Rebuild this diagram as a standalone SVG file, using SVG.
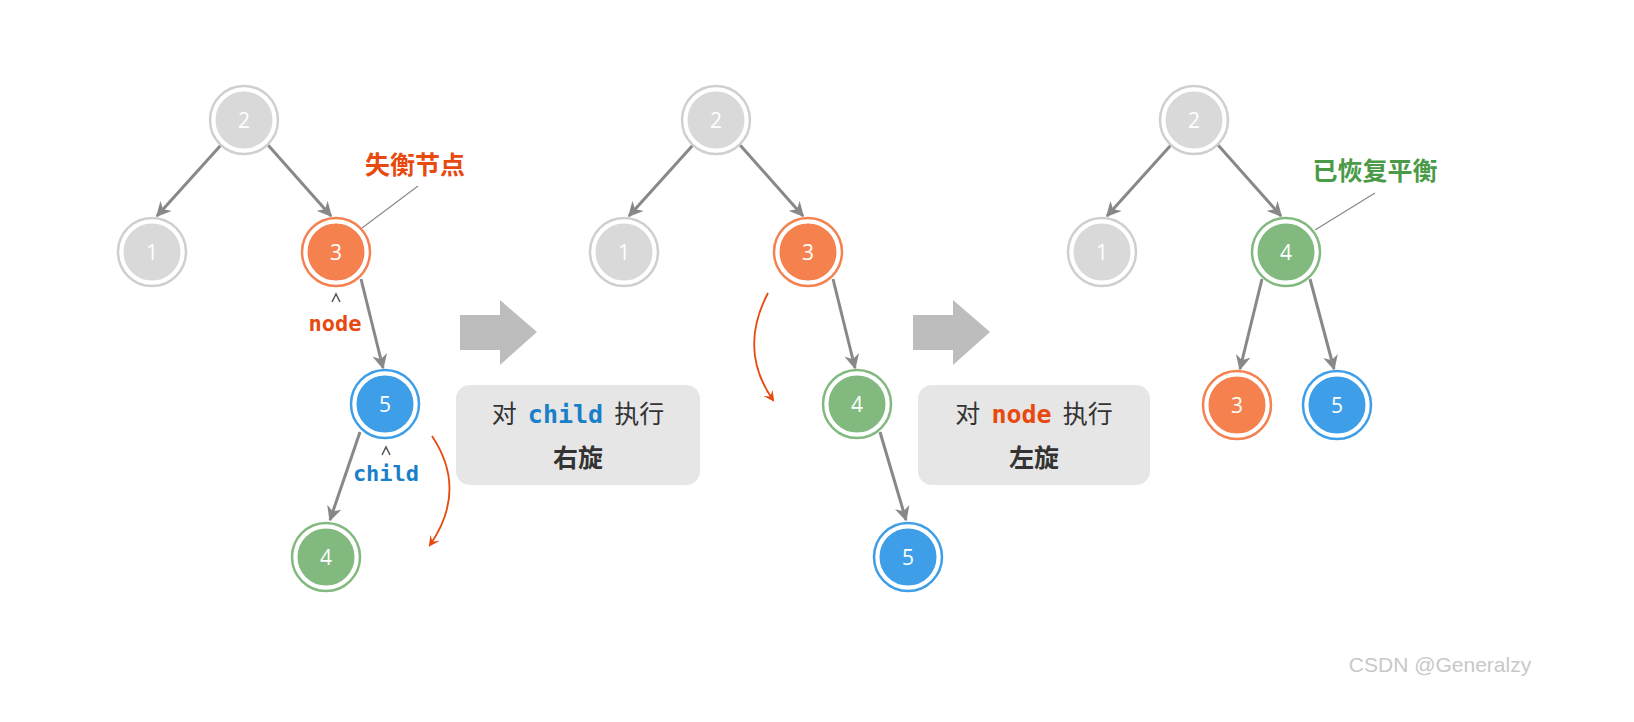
<svg xmlns="http://www.w3.org/2000/svg" width="1634" height="722" viewBox="0 0 1634 722">
<style>
.ring{stroke-width:2.5;fill:#fff}
.inner{stroke:#fff;stroke-width:3}
.num{font-family:"Open Sans","DejaVu Sans",sans-serif;font-size:21px;fill:#fff;text-anchor:middle;dominant-baseline:central}
.g .ring{stroke:#cfcfcf}.g .inner{fill:#d9d9d9}
.o .ring{stroke:#f5814f}.o .inner{fill:#f5814f}
.b .ring{stroke:#3e9fe8}.b .inner{fill:#3e9fe8}
.n .ring{stroke:#82b97f}.n .inner{fill:#82b97f}
.e{stroke:#888;stroke-width:3;fill:none;marker-end:url(#ah)}
.cjk{font-family:"Noto Sans CJK SC",sans-serif;font-size:25px;text-anchor:middle}
.mono{font-family:"DejaVu Sans Mono","Liberation Mono",monospace;font-weight:bold}
</style>
<defs>
<marker id="ah" viewBox="0 0 10 10" refX="9" refY="5" markerWidth="5" markerHeight="5" orient="auto"><path d="M0,0 L10,5 L0,10 L3,5 Z" fill="#888"/></marker>
<marker id="oh" viewBox="0 0 10 10" refX="8" refY="5" markerWidth="6" markerHeight="6" orient="auto"><path d="M0,0 L10,5 L0,10 L4,5 Z" fill="#e8490f"/></marker>
</defs>
<g id="connectors">
<line class="e" x1="221" y1="145" x2="157" y2="216"/>
<line class="e" x1="268" y1="145" x2="331" y2="216"/>
<line class="e" x1="361" y1="279" x2="383" y2="368"/>
<line class="e" x1="360" y1="432" x2="330" y2="520"/>
<line class="e" x1="693" y1="145" x2="629" y2="216"/>
<line class="e" x1="740" y1="145" x2="803" y2="216"/>
<line class="e" x1="833" y1="279" x2="855" y2="368"/>
<line class="e" x1="880" y1="432" x2="906" y2="520"/>
<line class="e" x1="1171" y1="145" x2="1107" y2="216"/>
<line class="e" x1="1218" y1="145" x2="1281" y2="216"/>
<line class="e" x1="1262" y1="279" x2="1240" y2="369"/>
<line class="e" x1="1310" y1="279" x2="1334" y2="369"/>
<line x1="362" y1="228" x2="418" y2="186" stroke="#888" stroke-width="1.2"/>
<line x1="1315" y1="230" x2="1375" y2="193" stroke="#888" stroke-width="1.2"/>
<path d="M432,436 Q468,490 430,545" stroke="#e8490f" stroke-width="1.8" fill="none" marker-end="url(#oh)"/>
<path d="M768,293 Q738,350 773,400" stroke="#e8490f" stroke-width="1.8" fill="none" marker-end="url(#oh)"/>
</g>
<g id="n2a" class="g"><circle class="ring" cx="244" cy="120" r="34"/><circle class="inner" cx="244" cy="120" r="30"/><text class="num" x="244" y="120">2</text></g>
<g id="n1a" class="g"><circle class="ring" cx="152" cy="252" r="34"/><circle class="inner" cx="152" cy="252" r="30"/><text class="num" x="152" y="252">1</text></g>
<g id="n3a" class="o"><circle class="ring" cx="336" cy="252" r="34"/><circle class="inner" cx="336" cy="252" r="30"/><text class="num" x="336" y="252">3</text></g>
<g id="n5a" class="b"><circle class="ring" cx="385" cy="404" r="34"/><circle class="inner" cx="385" cy="404" r="30"/><text class="num" x="385" y="404">5</text></g>
<g id="n4a" class="n"><circle class="ring" cx="326" cy="557" r="34"/><circle class="inner" cx="326" cy="557" r="30"/><text class="num" x="326" y="557">4</text></g>
<g id="n2b" class="g"><circle class="ring" cx="716" cy="120" r="34"/><circle class="inner" cx="716" cy="120" r="30"/><text class="num" x="716" y="120">2</text></g>
<g id="n1b" class="g"><circle class="ring" cx="624" cy="252" r="34"/><circle class="inner" cx="624" cy="252" r="30"/><text class="num" x="624" y="252">1</text></g>
<g id="n3b" class="o"><circle class="ring" cx="808" cy="252" r="34"/><circle class="inner" cx="808" cy="252" r="30"/><text class="num" x="808" y="252">3</text></g>
<g id="n4b" class="n"><circle class="ring" cx="857" cy="404" r="34"/><circle class="inner" cx="857" cy="404" r="30"/><text class="num" x="857" y="404">4</text></g>
<g id="n5b" class="b"><circle class="ring" cx="908" cy="557" r="34"/><circle class="inner" cx="908" cy="557" r="30"/><text class="num" x="908" y="557">5</text></g>
<g id="n2c" class="g"><circle class="ring" cx="1194" cy="120" r="34"/><circle class="inner" cx="1194" cy="120" r="30"/><text class="num" x="1194" y="120">2</text></g>
<g id="n1c" class="g"><circle class="ring" cx="1102" cy="252" r="34"/><circle class="inner" cx="1102" cy="252" r="30"/><text class="num" x="1102" y="252">1</text></g>
<g id="n4c" class="n"><circle class="ring" cx="1286" cy="252" r="34"/><circle class="inner" cx="1286" cy="252" r="30"/><text class="num" x="1286" y="252">4</text></g>
<g id="n3c" class="o"><circle class="ring" cx="1237" cy="405" r="34"/><circle class="inner" cx="1237" cy="405" r="30"/><text class="num" x="1237" y="405">3</text></g>
<g id="n5c" class="b"><circle class="ring" cx="1337" cy="405" r="34"/><circle class="inner" cx="1337" cy="405" r="30"/><text class="num" x="1337" y="405">5</text></g>
<g id="labels">
<text class="cjk" x="415" y="174" fill="#e8490f" font-weight="bold">失衡节点</text>
<text class="cjk" x="1375" y="180" fill="#4a9a47" font-weight="bold">已恢复平衡</text>
<path d="M332,302 L336,294 L340,302" stroke="#555" stroke-width="1.5" fill="none"/>
<text class="mono" x="335" y="331" font-size="22" fill="#e8490f" text-anchor="middle">node</text>
<path d="M382,455 L386,447 L390,455" stroke="#555" stroke-width="1.5" fill="none"/>
<text class="mono" x="386" y="481" font-size="22" fill="#1a7fc9" text-anchor="middle">child</text>
</g>
<g id="arrow1"><path d="M460,315 H500 V300 L537,332 L500,365 V350 H460 Z" fill="#bdbdbd"/></g>
<g id="arrow2"><path d="M913,315 H953 V300 L990,332 L953,365 V350 H913 Z" fill="#bdbdbd"/></g>
<g id="box1">
<rect x="456" y="385" width="244" height="100" rx="14" fill="#e6e6e6"/>
<text class="cjk" x="578" y="423" fill="#333" xml:space="preserve">对  <tspan class="mono" fill="#1a7fc9">child</tspan>  执行</text>
<text class="cjk" x="578" y="467" fill="#333" font-weight="bold">右旋</text>
</g>
<g id="box2">
<rect x="918" y="385" width="232" height="100" rx="14" fill="#e6e6e6"/>
<text class="cjk" x="1034" y="423" fill="#333" xml:space="preserve">对  <tspan class="mono" fill="#e8490f">node</tspan>  执行</text>
<text class="cjk" x="1034" y="467" fill="#333" font-weight="bold">左旋</text>
</g>
<text x="1440" y="672" font-family="Liberation Sans,sans-serif" font-size="21" fill="#c8c8c8" text-anchor="middle">CSDN @Generalzy</text>
</svg>
